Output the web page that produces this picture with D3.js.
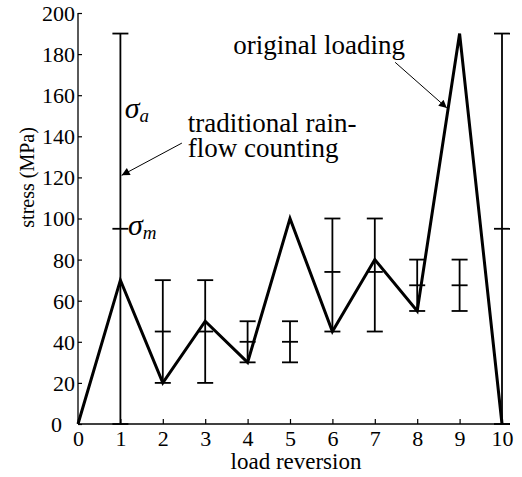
<!DOCTYPE html>
<html>
<head>
<meta charset="utf-8">
<script src="https://cdn.jsdelivr.net/npm/d3@7/dist/d3.min.js"></script>
<style>
  html, body { margin: 0; padding: 0; background: #fff; }
  svg { display: block; }
</style>
</head>
<body>
<svg id="chart" width="522" height="477"></svg>
<script>
// ---- data ----
const reversions = [0, 1, 2, 3, 4, 5, 6, 7, 8, 9, 10];
const loading    = [0, 70, 20, 50, 30, 100, 45, 80, 55, 190, 0];

const rfX    = [1, 2, 3, 4, 5, 6, 7, 8, 9, 10];
const rfLow  = [0, 20, 20, 30, 30, 45, 45, 55, 55, 0];
const rfHigh = [190, 70, 70, 50, 50, 100, 100, 80, 80, 190];
const rfMean = [95, 45, 45, 40, 40, 74, 74, 67.5, 67.5, 95];

const xTicks = [0, 1, 2, 3, 4, 5, 6, 7, 8, 9, 10];
const yTicks = [0, 20, 40, 60, 80, 100, 120, 140, 160, 180, 200];

const FONT = "Liberation Serif";

// ---- layout ----
const svg = d3.select("#chart");
const x = d3.scaleLinear().domain([0, 10]).range([78, 502]);
const y = d3.scaleLinear().domain([0, 200]).range([424, 13]);

// axes
const xAxis = d3.axisBottom(x).tickValues(xTicks).tickSizeInner(-5).tickSizeOuter(0).tickPadding(8).tickFormat(d3.format("d"));
const gx = svg.append("g").attr("transform", `translate(0,${y(0)})`).call(xAxis);
gx.select(".domain").remove();
gx.selectAll(".tick line").attr("stroke", "#000").attr("stroke-width", 1.2);
gx.selectAll(".tick text").style("font-family", FONT).style("font-size", "22px")
  .attr("dy", "0.62em").attr("fill", "#000");

const yAxis = d3.axisLeft(y).tickValues(yTicks).tickSizeInner(-4).tickSizeOuter(0).tickPadding(3);
const gy = svg.append("g").attr("transform", `translate(${x(0)},0)`).call(yAxis);
gy.select(".domain").remove();
gy.selectAll(".tick line").attr("stroke", "#000").attr("stroke-width", 1.2);
gy.selectAll(".tick text").style("font-family", FONT).style("font-size", "22px").attr("fill", "#000")
  .attr("dy", "0.34em")
  .attr("x", d => d === 0 ? -16 : -3);

// axis lines
svg.append("line").attr("x1", x(0)).attr("x2", x(10) + 8).attr("y1", y(0)).attr("y2", y(0))
  .attr("stroke", "#000").attr("stroke-width", 1.3);
svg.append("line").attr("x1", x(0)).attr("x2", x(0)).attr("y1", y(0)).attr("y2", y(200))
  .attr("stroke", "#000").attr("stroke-width", 1.3);

// axis titles
svg.append("text").attr("x", 296).attr("y", 469).attr("text-anchor", "middle")
  .style("font-family", FONT).style("font-size", "23px").text("load reversion");
svg.append("text").attr("transform", `translate(34,${y(120)}) rotate(-90)`)
  .attr("text-anchor", "middle").style("font-family", FONT).style("font-size", "20px").text("stress (MPa)");

// rainflow ranges (error-bar style)
const cap = 8;
const gRf = svg.append("g").attr("stroke", "#000").attr("stroke-width", 1.8).attr("fill", "none");
rfX.forEach((xv, i) => {
  const cx = x(xv);
  gRf.append("line").attr("x1", cx).attr("x2", cx).attr("y1", y(rfLow[i])).attr("y2", y(rfHigh[i]));
  [rfLow[i], rfHigh[i], rfMean[i]].forEach(v => {
    gRf.append("line").attr("x1", cx - cap).attr("x2", cx + cap).attr("y1", y(v)).attr("y2", y(v));
  });
});

// original loading line
svg.append("path")
  .datum(reversions.map((r, i) => [r, loading[i]]))
  .attr("fill", "none").attr("stroke", "#000").attr("stroke-width", 3)
  .attr("stroke-linejoin", "miter")
  .attr("d", d3.line().x(d => x(d[0])).y(d => y(d[1])));

// arrows
svg.append("defs").append("marker")
  .attr("id", "ah").attr("viewBox", "0 0 10 10").attr("refX", 10).attr("refY", 5)
  .attr("markerUnits", "userSpaceOnUse").attr("markerWidth", 11).attr("markerHeight", 8)
  .attr("orient", "auto")
  .append("path").attr("d", "M0,0 L10,5 L0,10 Z").attr("fill", "#000");

const arrows = [
  { from: [2.45, 136.7], to: [1.03, 121] },
  { from: [7.48, 176], to: [8.70, 153.8] }
];
arrows.forEach(a => {
  svg.append("line")
    .attr("x1", x(a.from[0])).attr("y1", y(a.from[1]))
    .attr("x2", x(a.to[0])).attr("y2", y(a.to[1]))
    .attr("stroke", "#000").attr("stroke-width", 1).attr("marker-end", "url(#ah)");
});

// annotation texts
function note(xv, yv, str) {
  svg.append("text").attr("x", x(xv)).attr("y", y(yv))
    .style("font-family", FONT).style("font-size", "27px").text(str);
}
note(3.66, 180, "original loading");
note(2.59, 142, "traditional rain-");
note(2.59, 130, "flow counting");

// sigma labels
function sigma(xv, yv, sub) {
  const t = svg.append("text").attr("x", x(xv)).attr("y", y(yv))
    .style("font-family", FONT).style("font-style", "italic").style("font-size", "30px");
  t.append("tspan").text("σ");
  t.append("tspan").style("font-size", "19px").attr("dy", 4).text(sub);
}
sigma(1.1, 149, "a");
sigma(1.18, 92, "m");
</script>
</body>
</html>
